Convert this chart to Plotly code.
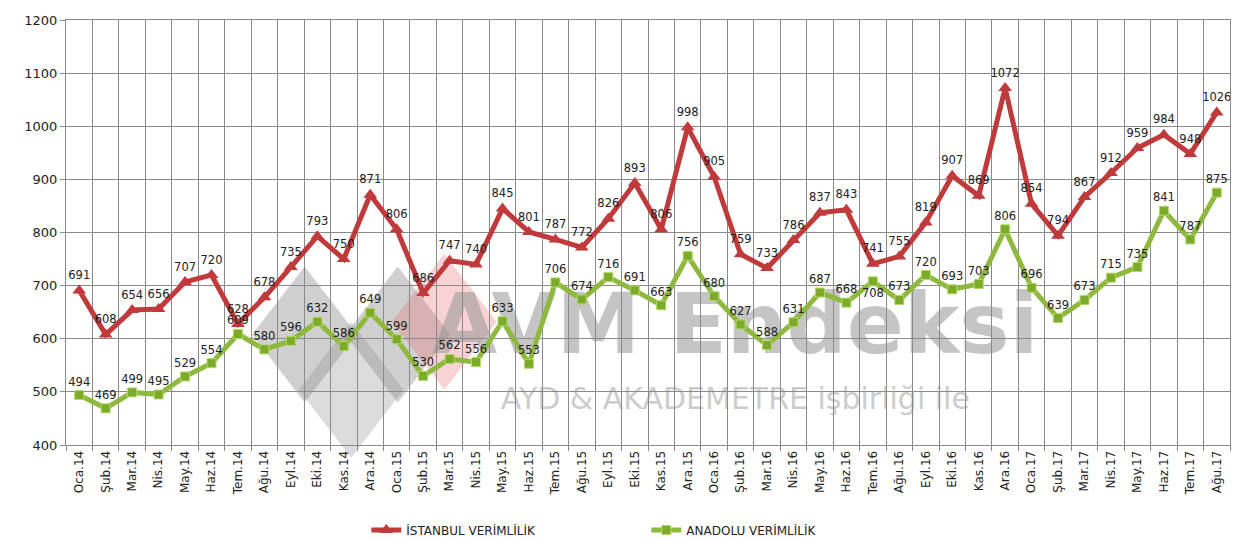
import plotly.graph_objects as go

months = ["Oca.14","Şub.14","Mar.14","Nis.14","May.14","Haz.14","Tem.14","Ağu.14","Eyl.14","Eki.14","Kas.14","Ara.14",
          "Oca.15","Şub.15","Mar.15","Nis.15","May.15","Haz.15","Tem.15","Ağu.15","Eyl.15","Eki.15","Kas.15","Ara.15",
          "Oca.16","Şub.16","Mar.16","Nis.16","May.16","Haz.16","Tem.16","Ağu.16","Eyl.16","Eki.16","Kas.16","Ara.16",
          "Oca.17","Şub.17","Mar.17","Nis.17","May.17","Haz.17","Tem.17","Ağu.17"]

istanbul = [691,608,654,656,707,720,628,678,735,793,750,871,
            806,686,747,740,845,801,787,772,826,893,806,998,
            905,759,733,786,837,843,741,755,819,907,869,1072,
            854,794,867,912,959,984,948,1026]

anadolu = [494,469,499,495,529,554,609,580,596,632,586,649,
           599,530,562,556,633,553,706,674,716,691,663,756,
           680,627,588,631,687,668,708,673,720,693,703,806,
           696,639,673,715,735,841,787,875]

ist_pos = ["top center"] * len(istanbul)
ana_pos = ["top center"] * len(anadolu)
ana_pos[30] = "bottom center"

RED = "#c0393b"
GREEN = "#8fb83e"
FONT = "DejaVu Sans"

fig = go.Figure()

fig.add_trace(go.Scatter(
    x=months, y=istanbul, name="İSTANBUL VERİMLİLİK",
    mode="lines+markers+text",
    line=dict(color=RED, width=5),
    marker=dict(symbol="triangle-up", size=12, color=RED),
    text=[str(v) for v in istanbul], textposition=ist_pos,
    textfont=dict(family=FONT, size=11.5, color="#222"),
))
fig.add_trace(go.Scatter(
    x=months, y=anadolu, name="ANADOLU VERİMLİLİK",
    mode="lines+markers+text",
    line=dict(color=GREEN, width=5),
    marker=dict(symbol="square", size=9, color="#7cab2a", line=dict(color="#b5d86a", width=1)),
    text=[str(v) for v in anadolu], textposition=ana_pos,
    textfont=dict(family=FONT, size=11.5, color="#222"),
))

shapes = []
# watermark diamonds
for cx, cy, col in [(0.205, 0.26, "rgba(120,120,120,0.35)"), (0.285, 0.26, "rgba(120,120,120,0.35)"),
                    (0.245, 0.13, "rgba(140,140,140,0.30)"), (0.325, 0.29, "rgba(235,110,110,0.30)")]:
    w, h = 0.045, 0.16
    shapes.append(dict(type="path", xref="paper", yref="paper", layer="below",
                       path=f"M {cx-w},{cy} L {cx},{cy+h} L {cx+w},{cy} L {cx},{cy-h} Z",
                       fillcolor=col, line=dict(width=0)))
shapes.append(dict(type="rect", xref="paper", yref="paper", layer="below",
                   x0=0.33, x1=0.82, y0=0.2, y1=0.4, line=dict(width=0), fillcolor="rgba(0,0,0,0)",
                   label=dict(text="<b>AVM Endeksi</b>", font=dict(family=FONT, size=84, color="rgba(150,150,150,0.55)"))))
shapes.append(dict(type="rect", xref="paper", yref="paper", layer="below",
                   x0=0.33, x1=0.82, y0=0.05, y1=0.18, line=dict(width=0), fillcolor="rgba(0,0,0,0)",
                   label=dict(text="AYD & AKADEMETRE işbirliği ile", font=dict(family=FONT, size=30, color="rgba(160,160,160,0.55)"))))

fig.update_layout(
    width=1248, height=540,
    margin=dict(l=58, r=26, t=12, b=103, autoexpand=False),
    paper_bgcolor="white", plot_bgcolor="white",
    font=dict(family=FONT, size=11, color="#222"),
    shapes=shapes,
    showlegend=True,
    legend=dict(orientation="h", x=0.258, xanchor="left", y=-0.2, yanchor="middle",
                font=dict(family=FONT, size=12, color="#222"), entrywidth=235, traceorder="normal"),
    xaxis=dict(type="category", tickson="boundaries", showgrid=True, gridcolor="#8a8a8a", gridwidth=1,
               tickangle=-90, ticks="outside", ticklen=5, tickcolor="#8a8a8a", automargin=False,
               showline=True, linecolor="#8a8a8a", mirror=True,
               tickfont=dict(family=FONT, size=12, color="#222"), range=[-0.5, 43.5]),
    yaxis=dict(range=[400, 1200], dtick=100, showgrid=True, gridcolor="#8a8a8a", gridwidth=1,
               ticks="outside", ticklen=5, tickcolor="#8a8a8a", zeroline=False, automargin=False,
               showline=True, linecolor="#8a8a8a", mirror=True,
               tickfont=dict(family=FONT, size=13, color="#222")),
)

fig.write_html("out.html")
